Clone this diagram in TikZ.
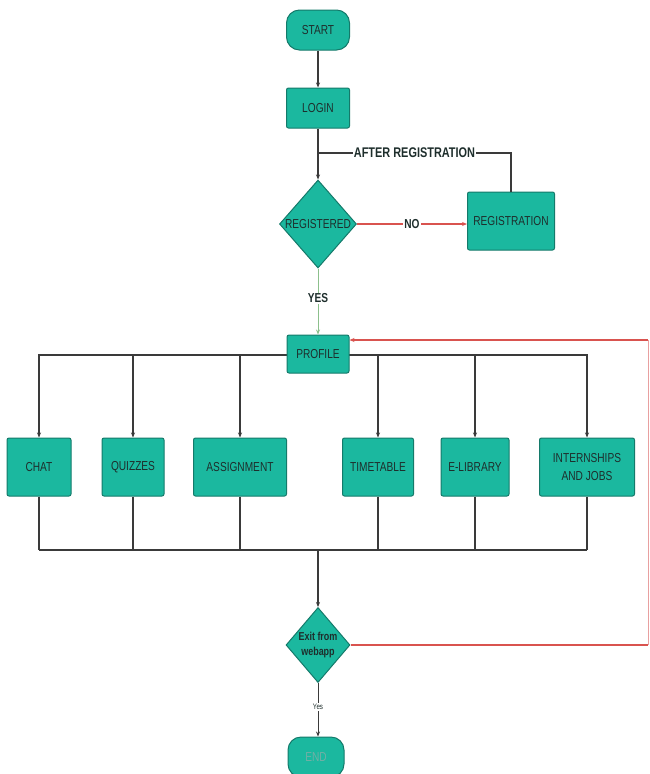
\documentclass[tikz,border=0pt]{standalone}
\usepackage{fontspec}
\setmainfont{Liberation Sans}
\newfontfamily\cond[FakeStretch=0.78]{Liberation Sans}
\usetikzlibrary{shapes.geometric,arrows.meta}
\definecolor{teal1}{HTML}{1BB89F}
\definecolor{tealb}{HTML}{147A6A}
\definecolor{txt}{HTML}{1E2E2C}
\definecolor{ln}{HTML}{3A3A3A}
\definecolor{redl}{HTML}{D9534F}
\definecolor{redf}{HTML}{E8A0A0}
\definecolor{grn}{HTML}{8CC08C}
\begin{document}
\begin{tikzpicture}[x=1pt,y=-1pt,
  every node/.style={text=txt},
  base/.style={fill=teal1,draw=tealb,line width=1pt,font=\cond\fontsize{13}{14}\selectfont,align=center,inner sep=0pt},
  box/.style={base,rounded corners=2pt},
  term/.style={base,rounded corners=13pt},
  dia/.style={base,diamond},
  blk/.style={draw=ln,line width=1.6pt},
  arr/.style={-{Stealth[length=5pt,width=4pt]}},
  lbl/.style={fill=white,inner sep=1pt,font=\cond\bfseries\fontsize{13}{14}\selectfont}
]
\useasboundingbox (0,0) rectangle (650,774);
% nodes
\node[term,minimum width=63,minimum height=40] (start) at (318,30) {START};
\node[box,minimum width=63,minimum height=40] (login) at (318,108) {LOGIN};
\node[dia,minimum width=77,minimum height=88] (reg) at (318,224) {};
\node[font=\cond\fontsize{13}{14}\selectfont] (regt) at (reg) {REGISTERED};
\node[box,minimum width=87,minimum height=58] (regn) at (511,221) {REGISTRATION};
% bus top
\coordinate (bt1) at (38,355);
\coordinate (bt2) at (588,355);
\draw[blk] (bt1) -- (bt2);
\node[box,minimum width=62,minimum height=38] (profile) at (318,354) {PROFILE};
\node[box,minimum width=64,minimum height=58] (chat) at (39,467) {CHAT};
\node[box,minimum width=62,minimum height=58] (quiz) at (133,467) {QUIZZES};
\node[box,minimum width=93,minimum height=58] (assign) at (240,467) {ASSIGNMENT};
\node[box,minimum width=71,minimum height=58] (time) at (378,467) {TIMETABLE};
\node[box,minimum width=68,minimum height=58] (elib) at (475,467) {E-LIBRARY};
\node[box,minimum width=95,minimum height=58] (intern) at (587,467) {INTERNSHIPS\\[4pt]AND JOBS};
\node[dia,minimum width=64,minimum height=75] (exit) at (318,645) {};
\node[font=\cond\bfseries\fontsize{11.5}{15}\selectfont,align=center] (exitt) at (exit) {Exit from\\webapp};
\node[term,minimum width=56,minimum height=40] (end) at (316,757) {\textcolor{tealb!60}{END}};
% connectors
\draw[blk,arr] (start) -- (login);
\draw[blk,arr] (login) -- (reg);
\coordinate (j1) at (318,153);
\draw[blk] (regn.north) |- (j1) node[lbl,pos=0.75,font=\cond\bfseries\fontsize{14}{15}\selectfont] (ar) {AFTER REGISTRATION};
\draw[draw=redl,line width=1.3pt,arr] (reg.east) -- (reg.east -| regn.west) node[lbl,midway] (no) {NO};
\draw[draw=grn,line width=1pt,arr] (reg.south) -- (profile.north) node[lbl,pos=0.45] (yes) {YES};
\foreach \n in {chat,quiz,assign,time,elib,intern}{
  \draw[blk,arr] (bt1 -| \n.north) -- (\n.north);
}
\coordinate (bb1) at (39,550);
\coordinate (bb2) at (587,550);
\foreach \n in {chat,quiz,assign,time,elib,intern}{
  \draw[blk] (\n.south) -- (bb1 -| \n.south);
}
\draw[blk] (bb1) -- (bb2);
\coordinate (bbm) at (318,550);
\draw[blk,arr] (bbm) -- (exit.north);
\coordinate (r1) at (648,340);
\draw[draw=redl,line width=1.1pt] (exit.east) -- (exit.east -| r1);
\draw[draw=redf,line width=1pt] (exit.east -| r1) -- (r1);
\draw[draw=redl,line width=1.1pt,arr] (r1) -- (r1 -| profile.east);
\draw[draw=ln,line width=0.8pt,arr] (exit.south) -- (exit.south |- end.north) node[fill=white,inner sep=1pt,pos=0.45,font=\cond\fontsize{8}{9}\selectfont] (yes2) {Yes};
\end{tikzpicture}
\end{document}
